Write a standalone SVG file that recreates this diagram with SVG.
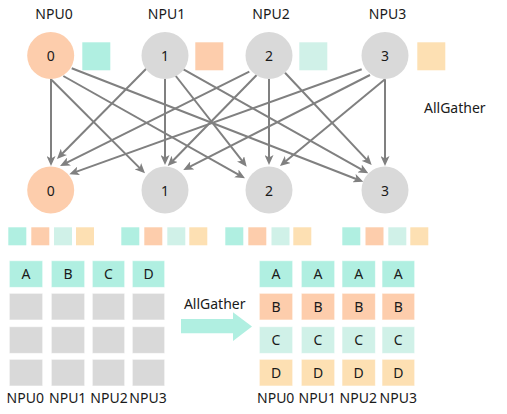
<svg xmlns="http://www.w3.org/2000/svg" width="507" height="414" viewBox="0 0 507 414">
<style>
text{font-family:"Noto Sans","Open Sans","DejaVu Sans",sans-serif;font-size:14px;fill:#1a1a1a;text-anchor:middle}
.lbl{text-anchor:start}
.c0{fill:#fdcdac}
.cg{fill:#d9d9d9}
.a{fill:#b0efe1}
.b{fill:#fdcdac}
.c{fill:#d0f1e8}
.d{fill:#fde0b3}
.g{fill:#d9d9d9}
.cell{stroke:#ffffff;stroke-opacity:0.6;stroke-width:1}
.e{stroke:#808080;stroke-width:2;fill:none;marker-end:url(#ah)}
</style>
<defs>
<marker id="ah" markerUnits="userSpaceOnUse" markerWidth="10" markerHeight="9" refX="3" refY="4.5" orient="auto">
<path d="M0,0 L10,4.5 L0,9 L2.5,4.5 z" fill="#808080"/>
</marker>
</defs>
<rect width="507" height="414" fill="#ffffff"/>

<g id="top-labels">
<text x="54" y="19">NPU0</text>
<text x="166.5" y="19">NPU1</text>
<text x="271" y="19">NPU2</text>
<text x="387.5" y="19">NPU3</text>
<text class="lbl" x="424" y="113">AllGather</text>
</g>

<g id="connectors">
<line class="e" x1="51" y1="79" x2="51" y2="159"/>
<line class="e" x1="51.7" y1="80" x2="140.05" y2="168.35"/>
<line class="e" x1="63.3" y1="76" x2="238.9" y2="174.9"/>
<line class="e" x1="71.7" y1="68.3" x2="356.8" y2="179.2"/>
<line class="e" x1="146.7" y1="68.3" x2="61.9" y2="154"/>
<line class="e" x1="165" y1="79" x2="165" y2="158"/>
<line class="e" x1="175" y1="75" x2="242.4" y2="161.2"/>
<line class="e" x1="181.7" y1="68.3" x2="362.2" y2="169.9"/>
<line class="e" x1="249.3" y1="71.7" x2="66.3" y2="162.9"/>
<line class="e" x1="256.7" y1="75" x2="172.6" y2="161"/>
<line class="e" x1="269" y1="79" x2="269" y2="158"/>
<line class="e" x1="285" y1="72.7" x2="366.9" y2="159.9"/>
<line class="e" x1="361.7" y1="69.3" x2="75.9" y2="171.9"/>
<line class="e" x1="370" y1="75" x2="189.5" y2="166.8"/>
<line class="e" x1="385" y1="79.3" x2="285.4" y2="161.5"/>
<line class="e" x1="385" y1="79.3" x2="385" y2="159"/>
</g>

<g id="src0"><circle class="c0" cx="50.7" cy="55.5" r="23.5"/><text x="50.7" y="61">0</text><rect class="a" x="82.3" y="42.3" width="28" height="28"/></g>
<g id="src1"><circle class="cg" cx="165" cy="55.5" r="23.5"/><text x="165" y="61">1</text><rect class="b" x="195.3" y="42.3" width="28" height="28"/></g>
<g id="src2"><circle class="cg" cx="269" cy="55.5" r="23.5"/><text x="269" y="61">2</text><rect class="c" x="299.3" y="42.3" width="28" height="28"/></g>
<g id="src3"><circle class="cg" cx="385" cy="55.5" r="23.5"/><text x="385" y="61">3</text><rect class="d" x="417.3" y="42.3" width="28" height="28"/></g>

<g id="dst0"><circle class="c0" cx="50.7" cy="190" r="23.5"/><text x="50.7" y="195.5">0</text>
<rect class="a" x="8.3" y="227.3" width="18" height="18"/><rect class="b" x="31.3" y="227.3" width="18" height="18"/><rect class="c" x="54" y="227.3" width="18" height="18"/><rect class="d" x="76" y="227.3" width="18" height="18"/></g>
<g id="dst1"><circle class="cg" cx="165" cy="190" r="23.5"/><text x="165" y="195.5">1</text>
<rect class="a" x="121.3" y="227.3" width="18" height="18"/><rect class="b" x="144.3" y="227.3" width="18" height="18"/><rect class="c" x="167.3" y="227.3" width="18" height="18"/><rect class="d" x="189.3" y="227.3" width="18" height="18"/></g>
<g id="dst2"><circle class="cg" cx="269" cy="190" r="23.5"/><text x="269" y="195.5">2</text>
<rect class="a" x="225.3" y="227.3" width="18" height="18"/><rect class="b" x="248.3" y="227.3" width="18" height="18"/><rect class="c" x="271.5" y="227.3" width="18" height="18"/><rect class="d" x="293.3" y="227.3" width="18" height="18"/></g>
<g id="dst3"><circle class="cg" cx="385" cy="190" r="23.5"/><text x="385" y="195.5">3</text>
<rect class="a" x="342.3" y="227.3" width="18" height="18"/><rect class="b" x="365.5" y="227.3" width="18" height="18"/><rect class="c" x="388.3" y="227.3" width="18" height="18"/><rect class="d" x="410.3" y="227.3" width="18" height="18"/></g>

<g id="grid-before">
<rect class="cell a" x="9.3" y="260.7" width="33.4" height="26.7"/><text x="26" y="278.5">A</text>
<rect class="cell a" x="51.3" y="260.7" width="33.4" height="26.7"/><text x="68" y="278.5">B</text>
<rect class="cell a" x="92.3" y="260.7" width="32.4" height="26.7"/><text x="108.5" y="278.5">C</text>
<rect class="cell a" x="132.3" y="260.7" width="32.4" height="26.7"/><text x="148.5" y="278.5">D</text>
<rect class="cell g" x="9.3" y="293.3" width="33.4" height="26.7"/><rect class="cell g" x="51.3" y="293.3" width="33.4" height="26.7"/><rect class="cell g" x="92.3" y="293.3" width="32.4" height="26.7"/><rect class="cell g" x="132.3" y="293.3" width="32.4" height="26.7"/>
<rect class="cell g" x="9.3" y="326.7" width="33.4" height="26.7"/><rect class="cell g" x="51.3" y="326.7" width="33.4" height="26.7"/><rect class="cell g" x="92.3" y="326.7" width="32.4" height="26.7"/><rect class="cell g" x="132.3" y="326.7" width="32.4" height="26.7"/>
<rect class="cell g" x="9.3" y="359.3" width="33.4" height="26.7"/><rect class="cell g" x="51.3" y="359.3" width="33.4" height="26.7"/><rect class="cell g" x="92.3" y="359.3" width="32.4" height="26.7"/><rect class="cell g" x="132.3" y="359.3" width="32.4" height="26.7"/>
<text x="25.3" y="403">NPU0</text><text x="67.7" y="403">NPU1</text><text x="109" y="403">NPU2</text><text x="148" y="403">NPU3</text>
</g>

<g id="allgather-arrow">
<text x="214.7" y="308.5">AllGather</text>
<polygon class="a" points="181,319 233,319 233,312.3 252,326.5 233,341 233,333.3 181,333.3"/>
</g>

<g id="grid-after">
<rect class="cell a" x="259.3" y="260.7" width="33.4" height="26.7"/><rect class="cell a" x="301.3" y="260.7" width="33.4" height="26.7"/><rect class="cell a" x="342" y="260.7" width="33.4" height="26.7"/><rect class="cell a" x="382" y="260.7" width="32.7" height="26.7"/>
<rect class="cell b" x="259.3" y="293.3" width="33.4" height="26.7"/><rect class="cell b" x="301.3" y="293.3" width="33.4" height="26.7"/><rect class="cell b" x="342" y="293.3" width="33.4" height="26.7"/><rect class="cell b" x="382" y="293.3" width="32.7" height="26.7"/>
<rect class="cell c" x="259.3" y="326.7" width="33.4" height="26.7"/><rect class="cell c" x="301.3" y="326.7" width="33.4" height="26.7"/><rect class="cell c" x="342" y="326.7" width="33.4" height="26.7"/><rect class="cell c" x="382" y="326.7" width="32.7" height="26.7"/>
<rect class="cell d" x="259.3" y="359.3" width="33.4" height="26.7"/><rect class="cell d" x="301.3" y="359.3" width="33.4" height="26.7"/><rect class="cell d" x="342" y="359.3" width="33.4" height="26.7"/><rect class="cell d" x="382" y="359.3" width="32.7" height="26.7"/>
<text x="276" y="278.5">A</text><text x="318" y="278.5">A</text><text x="358.7" y="278.5">A</text><text x="398.3" y="278.5">A</text>
<text x="276" y="311.5">B</text><text x="318" y="311.5">B</text><text x="358.7" y="311.5">B</text><text x="398.3" y="311.5">B</text>
<text x="276" y="344.5">C</text><text x="318" y="344.5">C</text><text x="358.7" y="344.5">C</text><text x="398.3" y="344.5">C</text>
<text x="276" y="377.5">D</text><text x="318" y="377.5">D</text><text x="358.7" y="377.5">D</text><text x="398.3" y="377.5">D</text>
<text x="275.7" y="403">NPU0</text><text x="317.3" y="403">NPU1</text><text x="358.3" y="403">NPU2</text><text x="398.3" y="403">NPU3</text>
</g>
</svg>
